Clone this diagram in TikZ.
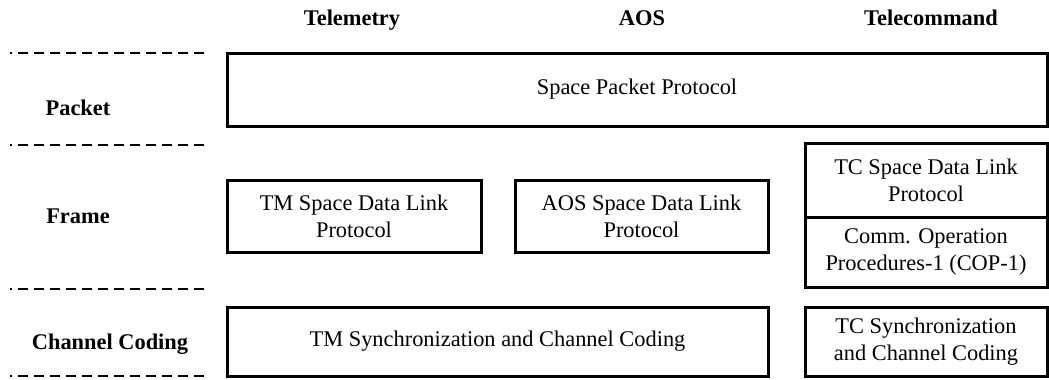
\documentclass[tikz,border=0pt]{standalone}
\usepackage{fontspec}
\setmainfont{Liberation Serif}
\usetikzlibrary{positioning}
\tikzset{
  layer/.style={draw, line width=2.25pt, inner sep=0pt, outer sep=0pt, align=center,
    font=\fontsize{16.8}{20}\selectfont},
  layerlabel/.style={anchor=base, font=\fontsize{16.8}{20}\selectfont\bfseries},
  separator/.style={line width=1.6pt, dash pattern=on 7.5pt off 4.5pt, dash phase=6pt}
}

\begin{document}
\begin{tikzpicture}[x=0.75pt,y=-0.75pt]
\useasboundingbox (0,0) rectangle (1049,379);

% Draw column titles.
\node[layerlabel] (telemetry) at (352,25) {Telemetry};
\node[layerlabel] (aos) at (642,25) {AOS};
\node[layerlabel] (telecommand) at (931,25) {Telecommand};

% Draw row titles.
\node[layerlabel] (packet) at (78,115) {Packet};
\node[layerlabel] (frame) at (78,223) {Frame};
\node[layerlabel] (coding) at (110,349) {Channel Coding};

% Draw separators.
\draw[separator] (10,53) -- (208,53);
\draw[separator] (10,145) -- (208,145);
\draw[separator] (10,289) -- (208,289);
\draw[separator] (10,376) -- (208,376);

% Packet layer.
\node[layer, minimum width=615pt, minimum height=54.75pt] (spp) at (637,89.5)
  {Space Packet Protocol};

% Frame layer.
\node[layer, minimum width=190.5pt, minimum height=54pt] (tmsdlp) at (354,216)
  {TM Space Data Link\\Protocol};
\node[layer, minimum width=189.75pt, minimum height=54pt] (aossdlp) at (641.5,216)
  {AOS Space Data Link\\Protocol};
\node[layer, minimum width=181.5pt, minimum height=55.5pt] (tcsdlp) at (926,180)
  {TC Space Data Link\\Protocol};
\node[layer, minimum width=181.5pt, minimum height=52.5pt, below=0pt of tcsdlp] (cop)
  {Comm. Operation\\Procedures-1 (COP-1)};

% Channel coding layer.
\node[layer, minimum width=405.75pt, minimum height=51.75pt] (tmsync) at (497.5,341.5)
  {TM Synchronization and Channel Coding};
\node[layer, minimum width=181.5pt, minimum height=51.75pt] (tcsync) at (926,341.5)
  {TC Synchronization\\and Channel Coding};
\end{tikzpicture}
\end{document}
